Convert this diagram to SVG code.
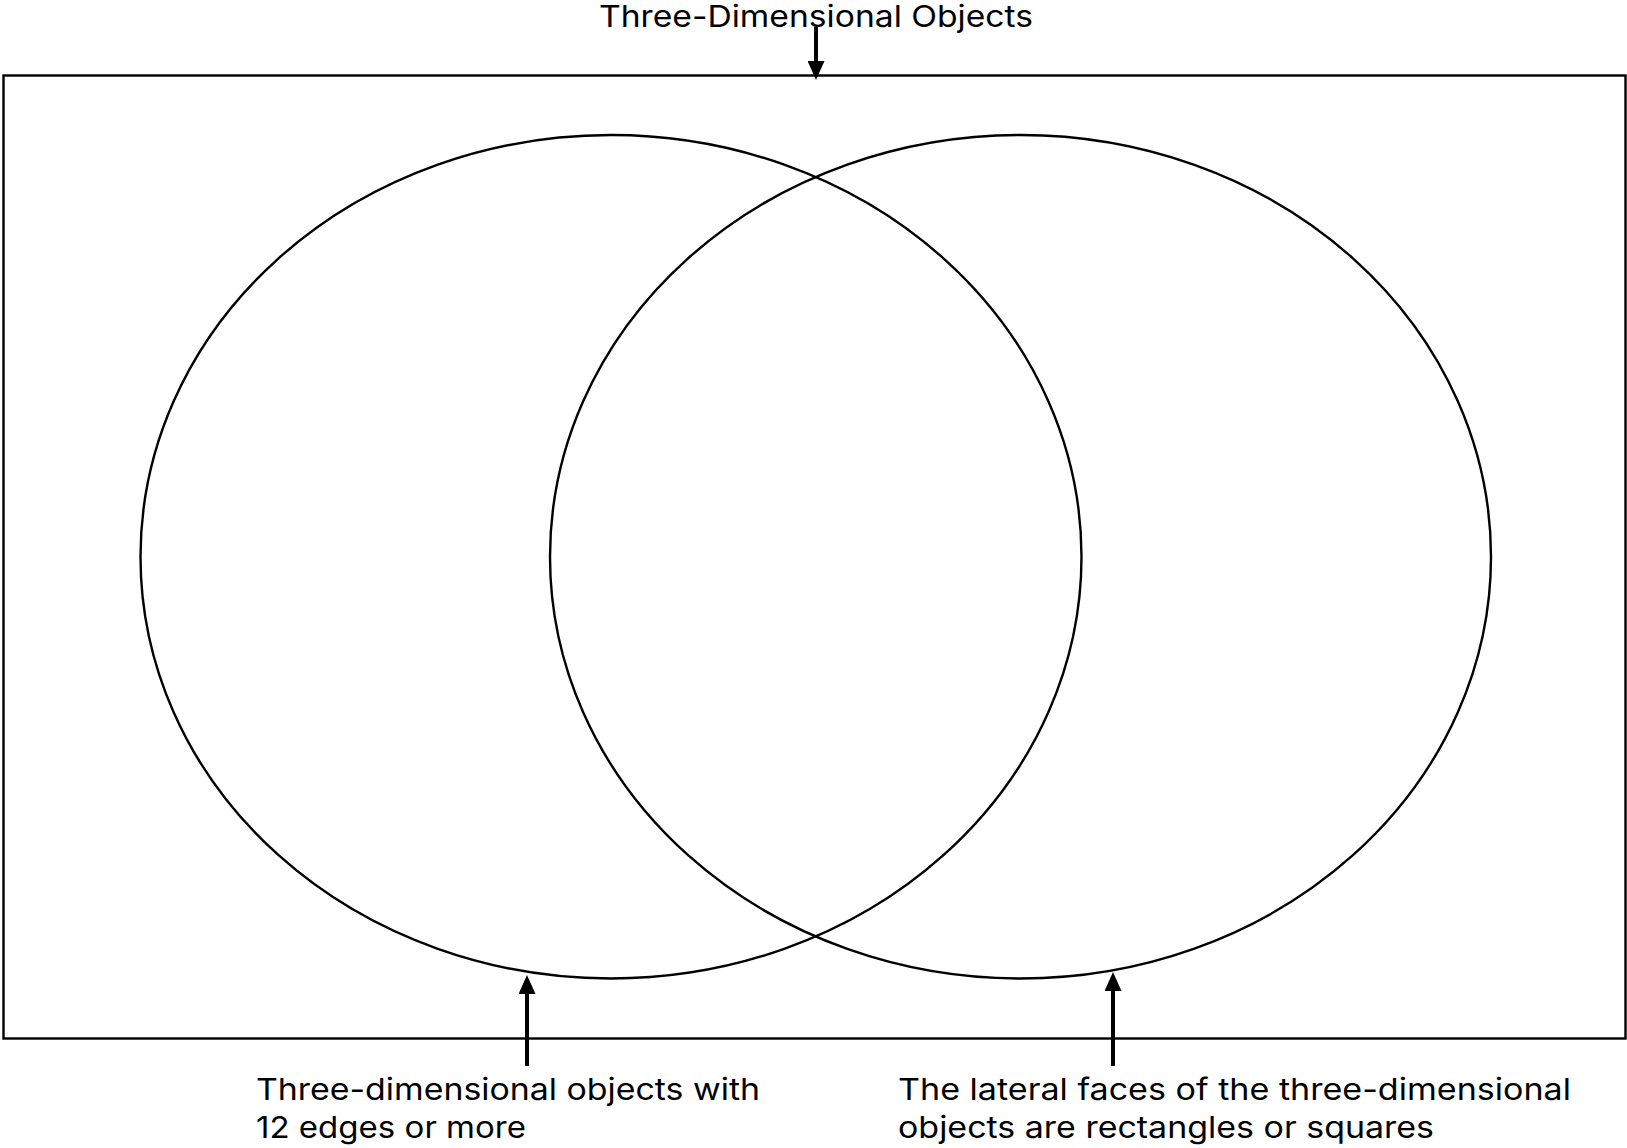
<svg xmlns="http://www.w3.org/2000/svg" width="1627" height="1148" viewBox="0 0 1627 1148">
  <style>
    .shape { fill: none; stroke: #000; stroke-width: 2.4; }
    .conn { fill: none; stroke: #000; stroke-width: 4; }
    .label { font-family: Inter, "Noto Sans", "Liberation Sans", sans-serif; fill: #000; font-size: 30px; }
  </style>
  <defs>
    <marker id="arrow" viewBox="0 0 19 17" refX="0" refY="8.5" markerWidth="19" markerHeight="17" markerUnits="userSpaceOnUse" orient="auto">
      <path d="M0,0 L19,8.5 L0,17 z" fill="#000"/>
    </marker>
  </defs>
  <rect width="1627" height="1148" fill="#fff"/>
  <g id="universe">
    <rect class="shape" x="3.5" y="75.5" width="1622" height="963"/>
    <text class="label" x="816" y="27" text-anchor="middle" textLength="434" lengthAdjust="spacingAndGlyphs">Three-Dimensional Objects</text>
  </g>
  <g id="set-left">
    <ellipse class="shape" cx="611" cy="556.75" rx="470.5" ry="421.75"/>
  </g>
  <g id="set-right">
    <ellipse class="shape" cx="1020.5" cy="556.75" rx="470.5" ry="421.75"/>
  </g>
  <g id="label-left">
    <text class="label">
      <tspan x="256" y="1100" textLength="504" lengthAdjust="spacingAndGlyphs">Three-dimensional objects with</tspan>
      <tspan x="256" y="1138" textLength="270" lengthAdjust="spacingAndGlyphs">12 edges or more</tspan>
    </text>
  </g>
  <g id="label-right">
    <text class="label">
      <tspan x="898" y="1100" textLength="673" lengthAdjust="spacingAndGlyphs">The lateral faces of the three-dimensional</tspan>
      <tspan x="898" y="1138" textLength="536" lengthAdjust="spacingAndGlyphs">objects are rectangles or squares</tspan>
    </text>
  </g>
  <g id="connectors">
    <line class="conn" x1="816" y1="27" x2="816" y2="61" marker-end="url(#arrow)"/>
    <line class="conn" x1="527" y1="1066" x2="527" y2="994" marker-end="url(#arrow)"/>
    <line class="conn" x1="1113" y1="1066" x2="1113" y2="991" marker-end="url(#arrow)"/>
  </g>
</svg>
